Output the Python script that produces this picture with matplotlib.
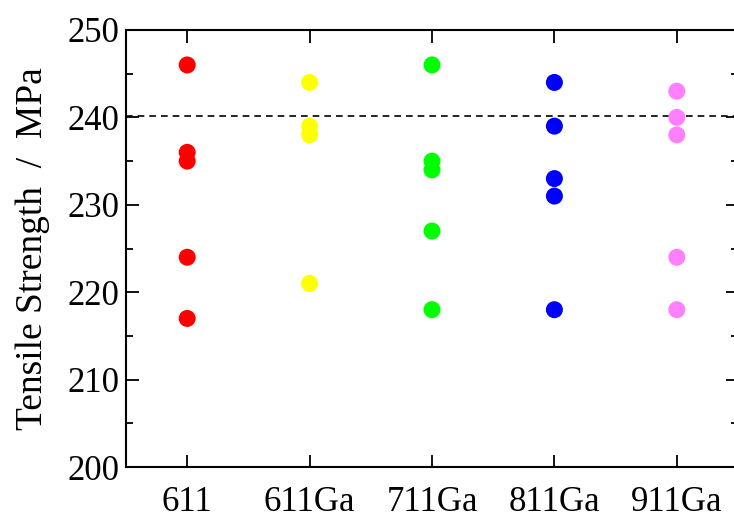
import matplotlib.pyplot as plt
from matplotlib.ticker import MultipleLocator

plt.rcParams['font.family'] = ['Liberation Serif', 'DejaVu Serif']

# data
categories = ["611", "611Ga", "711Ga", "811Ga", "911Ga"]
values = [
    [246, 236, 235, 224, 217],
    [244, 239, 238, 221],
    [246, 235, 234, 227, 218],
    [244, 239, 233, 231, 218],
    [243, 240, 238, 224, 218],
]
colors = ["#ff0000", "#ffff00", "#00ff00", "#0000ff", "#ff80ff"]
ref_line = 240.2

fig = plt.figure(figsize=(7.34, 5.21), dpi=100)
ax = fig.add_axes([126 / 734, 1 - 467 / 521, 612 / 734, 437 / 521])

for i, (vals, c) in enumerate(zip(values, colors)):
    ax.scatter([i] * len(vals), vals, s=150, color=c, edgecolors='none', zorder=3)

ax.axhline(ref_line, color='black', linestyle=(0, (4, 3)), linewidth=1.2, zorder=2)

ax.set_xlim(-0.5, 4.5)
ax.set_ylim(200, 250)
ax.set_xticks(range(len(categories)))
ax.set_xticklabels(categories)
ax.yaxis.set_major_locator(MultipleLocator(10))
ax.yaxis.set_minor_locator(MultipleLocator(5))
ax.tick_params(axis='both', which='both', direction='in', top=True, right=True,
               labelsize=25, width=1.3)
ax.tick_params(axis='both', which='major', length=9)
ax.tick_params(axis='y', which='minor', length=5)
ax.tick_params(axis='x', which='major', pad=14)
ax.tick_params(axis='y', which='major', pad=5)
for sp in ax.spines.values():
    sp.set_linewidth(1.5)

ax.set_ylabel("Tensile Strength  /  MPa", fontsize=27, labelpad=12)

fig.savefig("out.png", dpi=100)
